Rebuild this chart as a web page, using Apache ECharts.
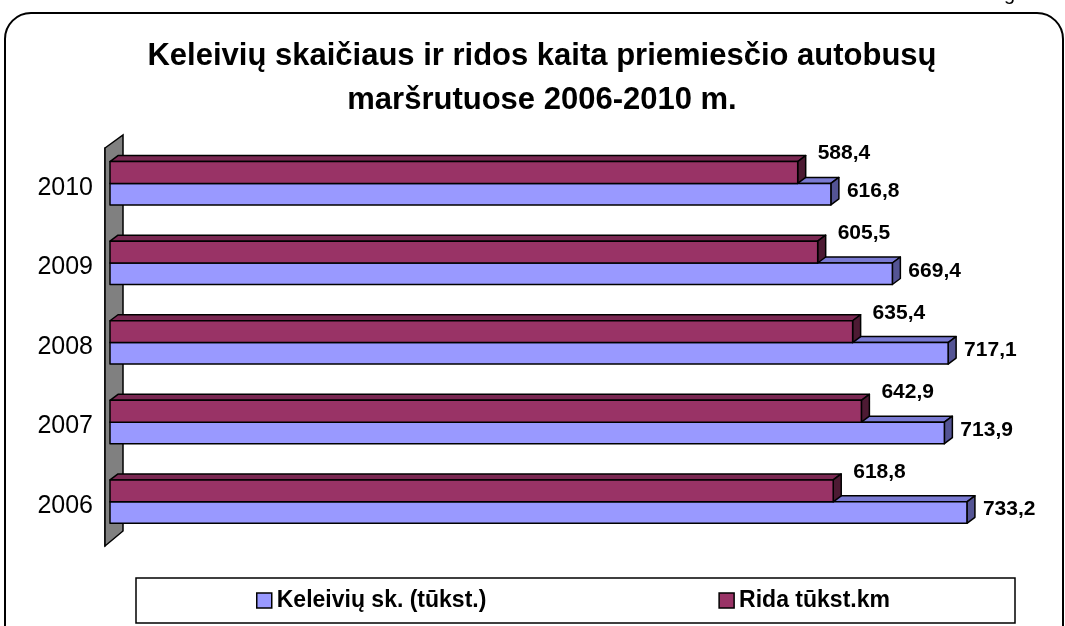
<!DOCTYPE html>
<html>
<head>
<meta charset="utf-8">
<script src="https://cdn.jsdelivr.net/npm/echarts@6/dist/echarts.min.js"></script>
<style>
html,body{margin:0;padding:0;background:#fff;}
#chart{width:1065px;height:626px;}
</style>
</head>
<body>
<div id="chart"></div>
<script>
const years = ['2006', '2007', '2008', '2009', '2010'];
const keleiviai = [733.2, 713.9, 717.1, 669.4, 616.8];
const rida = [618.8, 642.9, 635.4, 605.5, 588.4];
const seriesNames = ['Keleivių sk. (tūkst.)', 'Rida tūkst.km'];
const titleText = 'Keleivių skaičiaus ir ridos kaita priemiesčio autobusų\nmaršrutuose 2006-2010 m.';

const FONT = '"Liberation Sans", Arial, sans-serif';
const DX = 8, DY = 6;

function fmt(v) { return v.toFixed(1).replace('.', ','); }

function makeRender(colors, topFrac, botFrac, labelMode) {
  return function (params, api) {
    const v = api.value(0), idx = api.value(1);
    const c = api.coord([v, idx]);
    const x0 = api.coord([0, idx])[0];
    const bh = api.size([0, 1])[1];
    const top = c[1] + topFrac * bh;
    const bot = c[1] + botFrac * bh;
    const x1 = c[0];
    const stroke = {stroke: '#000', lineWidth: 1.5, lineJoin: 'round'};
    const children = [
      {type: 'polygon', shape: {points: [[x0, top], [x0 + DX, top - DY], [x1 + DX, top - DY], [x1, top]]},
       style: Object.assign({fill: colors.top}, stroke)},
      {type: 'polygon', shape: {points: [[x1, top], [x1 + DX, top - DY], [x1 + DX, bot - DY], [x1, bot]]},
       style: Object.assign({fill: colors.side}, stroke)},
      {type: 'rect', shape: {x: x0, y: top, width: x1 - x0, height: bot - top},
       style: Object.assign({fill: colors.front}, stroke)}
    ];
    let lx, ly;
    if (labelMode === 'right') { lx = x1 + DX + 8; ly = (top - DY + bot) / 2; }
    else { lx = x1 + DX + 12; ly = top - 8; }
    children.push({type: 'text', style: {text: fmt(v), x: lx, y: ly, fill: '#000',
      font: 'bold 21px ' + FONT, align: 'left', verticalAlign: 'middle'}});
    return {type: 'group', children: children};
  };
}

const chart = echarts.init(document.getElementById('chart'));
const blue = {front: '#9999FF', top: '#7a7ad2', side: '#545494'};
const maroon = {front: '#993366', top: '#7a2852', side: '#4d1a33'};

const option = {
  animation: false,
  backgroundColor: '#fff',
  title: {
    text: titleText, left: 542, top: 34, padding: 0, textAlign: 'center',
    textStyle: {fontFamily: FONT, fontSize: 31, fontWeight: 'bold', color: '#000', lineHeight: 44}
  },
  grid: {left: 110, right: 20, top: 148, bottom: 80},
  xAxis: {type: 'value', min: 0, max: 800, show: false},
  yAxis: {
    type: 'category', data: years, offset: 5,
    axisLine: {onZero: false, lineStyle: {color: '#000', width: 1.5}},
    axisTick: {length: 5, lineStyle: {color: '#000', width: 1.5}},
    axisLabel: {margin: 12, fontSize: 25, fontFamily: FONT, color: '#000'}
  },
  legend: {
    left: 256, top: 589, itemGap: 232, itemWidth: 15, itemHeight: 15, padding: 0,
    textStyle: {fontFamily: FONT, fontSize: 23, fontWeight: 'bold', color: '#000'},
    data: [
      {name: seriesNames[0], icon: 'rect', itemStyle: {color: blue.front, borderColor: '#000', borderWidth: 1.5}},
      {name: seriesNames[1], icon: 'rect', itemStyle: {color: maroon.front, borderColor: '#000', borderWidth: 1.5}}
    ]
  },
  graphic: [
    {type: 'rect', z: 100, silent: true, shape: {x: 5, y: 13, width: 1058, height: 640, r: 26},
     style: {fill: 'none', stroke: '#000', lineWidth: 2}},
    {type: 'rect', z: 1, silent: true, shape: {x: 136, y: 578, width: 879, height: 45},
     style: {fill: '#fff', stroke: '#000', lineWidth: 1.5}},
    {type: 'text', silent: true, style: {text: 'g', x: 1004, y: -16, font: '20px ' + FONT, fill: '#000'}}
  ],
  series: [
    {
      type: 'custom', name: 'wall', silent: true, z: 1,
      data: [[0, 0]], encode: {x: 0, y: 1},
      renderItem: function (params, api) {
        const bh = api.size([0, 1])[1];
        const first = api.coord([0, 0]);
        const last = api.coord([0, years.length - 1]);
        const yb = first[1] + bh / 2;
        const yt = last[1] - bh / 2;
        const xl = first[0] - 5;
        return {type: 'polygon', shape: {points: [[xl, yt], [xl + 18, yt - 13], [xl + 18, yb - 15], [xl, yb]]},
          style: {fill: '#808080', stroke: '#000', lineWidth: 1.5}};
      }
    },
    {
      type: 'custom', name: seriesNames[0], z: 3,
      itemStyle: {color: blue.front},
      data: keleiviai.map((v, i) => [v, i]), encode: {x: 0, y: 1},
      renderItem: makeRender(blue, -0.055, 0.215, 'right')
    },
    {
      type: 'custom', name: seriesNames[1], z: 4,
      itemStyle: {color: maroon.front},
      data: rida.map((v, i) => [v, i]), encode: {x: 0, y: 1},
      renderItem: makeRender(maroon, -0.33, -0.055, 'above')
    }
  ]
};
chart.setOption(option);
</script>
</body>
</html>
